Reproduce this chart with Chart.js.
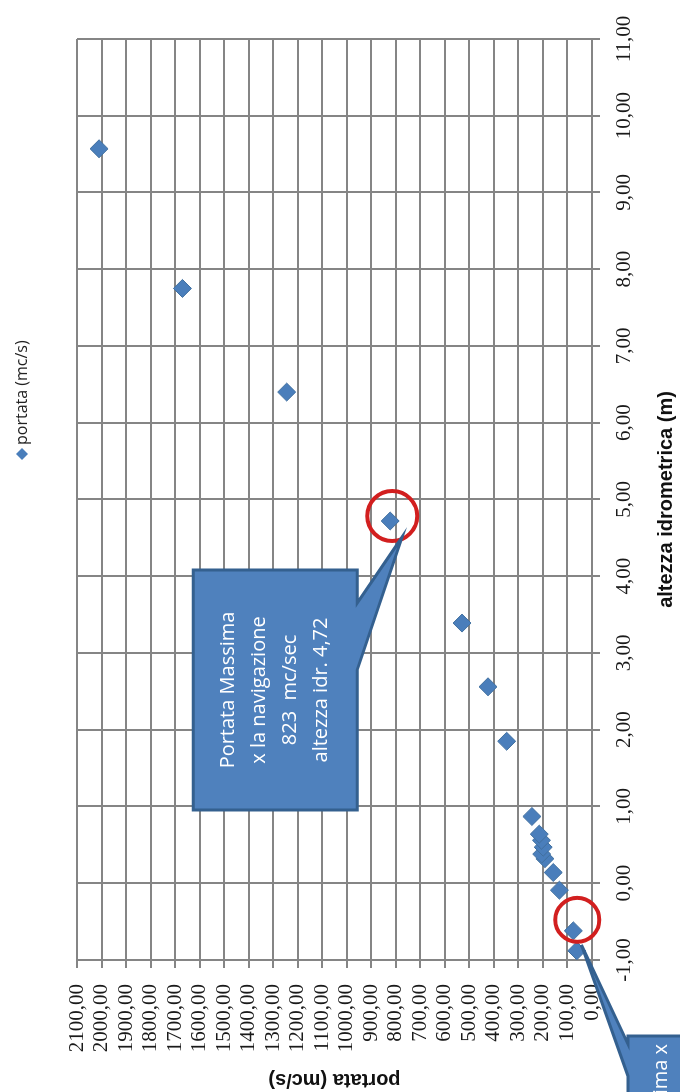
<!DOCTYPE html>
<html>
<head>
<meta charset="utf-8">
<title>portata / altezza idrometrica</title>
<script src="https://cdn.jsdelivr.net/npm/chart.js@4.4.1/dist/chart.umd.min.js"></script>
<style>
  html, body { margin: 0; padding: 0; background: #fff; overflow: hidden; }
  #wrap { position: relative; width: 680px; height: 1092px; overflow: hidden; background: #fff; }
  /* chart is laid out landscape, then turned a quarter turn to stand upright */
  #portata-chart {
    position: absolute; left: 0; top: 0;
    transform-origin: 0 0;
    transform: translateY(1092px) rotate(-90deg);
  }
</style>
</head>
<body>
<div id="wrap"><canvas id="portata-chart" width="1092" height="680"></canvas></div>
<script>
// misure: altezza idrometrica (m) e portata (mc/s)
const altezza = [-0.88, -0.62, -0.09, 0.14, 0.32, 0.38, 0.47, 0.56, 0.64, 0.87, 1.85, 2.56, 3.39, 4.72, 6.40, 7.75, 9.57];
const portata = [62, 76, 133, 158, 192, 205, 199, 206, 215, 245, 348, 424, 530, 823, 1245, 1670, 2010];

const seriesLabel = 'portata (mc/s)';
const xTitle = 'altezza idrometrica (m)';
const yTitle = 'portata (mc/s)';
const xMin = -1, xMax = 11, xStep = 1;
const yMin = 0, yMax = 2100, yStep = 100;

const calloutMax = ['Portata Massima', 'x la navigazione', '823  mc/sec', 'altezza idr. 4,72'];
const calloutMin = ['Portata minima x'];
const idxMax = 13;   // punto da 823 mc/s
const idxMin = 1;    // punto piu basso cerchiato

const gridColor = '#858585';
const pointColor = '#4a7ebb';
const boxFill = '#4f81bd';
const boxEdge = '#34608f';
const ringColor = '#d21f1f';

const fmt = (v) => Number(v).toFixed(2).replace('.', ',');

/**
 * Draws a wedge callout: rectangle with a pointer leaving one edge
 */
const drawCallout = (ctx, box, edge, base, tip, lines, lineGap) => {
    ctx.save();
    ctx.beginPath();
    if (edge === 'bottom') {
        ctx.moveTo(box.l, box.t);
        ctx.lineTo(box.r, box.t);
        ctx.lineTo(box.r, box.b);
        ctx.lineTo(base[1], box.b);
        ctx.lineTo(tip.x, tip.y);
        ctx.lineTo(base[0], box.b);
        ctx.lineTo(box.l, box.b);
    } else {
        ctx.moveTo(box.l, box.t);
        ctx.lineTo(base[0], box.t);
        ctx.lineTo(tip.x, tip.y);
        ctx.lineTo(base[1], box.t);
        ctx.lineTo(box.r, box.t);
        ctx.lineTo(box.r, box.b);
        ctx.lineTo(box.l, box.b);
    }
    ctx.closePath();
    ctx.fillStyle = boxFill;
    ctx.fill();
    ctx.lineWidth = 3;
    ctx.lineJoin = 'miter';
    ctx.strokeStyle = boxEdge;
    ctx.stroke();

    ctx.fillStyle = '#ffffff';
    ctx.font = '20px "Open Sans"';
    ctx.textAlign = box.align || 'center';
    ctx.textBaseline = 'middle';
    const cx = box.textX !== undefined ? box.textX : (box.l + box.r) / 2;
    const startY = box.textY !== undefined ? box.textY : (box.t + box.b) / 2 - (lines.length - 1) * lineGap / 2;
    lines.forEach((line, i) => ctx.fillText(line, cx, startY + i * lineGap));
    ctx.restore();
};

const ring = (ctx, x, y, r) => {
    ctx.save();
    ctx.beginPath();
    ctx.arc(x, y, r, 0, Math.PI * 2);
    ctx.lineWidth = 4;
    ctx.strokeStyle = ringColor;
    ctx.stroke();
    ctx.restore();
};

const annotations = {
    id: 'annotations',
    afterDatasetsDraw(chart) {
        const { ctx, scales: { x, y } } = chart;

        // portata massima
        const px = x.getPixelForValue(altezza[idxMax]);
        const py = y.getPixelForValue(portata[idxMax]);
        ring(ctx, px + 5, py + 2, 25);
        drawCallout(ctx,
            { l: px - 289, r: px - 49, t: py - 197, b: py - 33 },
            'bottom', [px - 149, px - 82], { x: px - 16, y: py + 12 },
            calloutMax, 31);

        // portata minima
        const qx = x.getPixelForValue(altezza[idxMin]);
        const qy = y.getPixelForValue(portata[idxMin]);
        ring(ctx, qx + 11, qy + 4, 22);
        drawCallout(ctx,
            { l: -160, r: 56, t: 628, b: 790, textX: 48, textY: 661, align: 'right' },
            'top', [16, 48], { x: qx - 14, y: qy + 8 },
            calloutMin, 31);
    }
};

const legendRow = {
    id: 'legendRow',
    afterDraw(chart) {
        const { ctx } = chart;
        const ds = chart.data.datasets[0];
        ctx.save();
        ctx.font = '16px "Open Sans"';
        ctx.textBaseline = 'middle';
        ctx.textAlign = 'left';
        const rowY = 22;
        const startX = 632;
        ctx.fillStyle = pointColor;
        ctx.beginPath();
        ctx.moveTo(startX, rowY);
        ctx.lineTo(startX + 6, rowY - 6);
        ctx.lineTo(startX + 12, rowY);
        ctx.lineTo(startX + 6, rowY + 6);
        ctx.closePath();
        ctx.fill();
        ctx.fillStyle = '#222';
        ctx.fillText(ds.label, startX + 15, rowY);
        ctx.restore();
    }
};

const tickFont = { family: 'Liberation Serif', size: 21 };
const titleFont = { family: 'Liberation Sans', size: 20, weight: 'bold' };

const element = document.getElementById('portata-chart');

new Chart(element, {
    type: 'scatter',
    data: {
        datasets: [{
            label: seriesLabel,
            data: altezza.map((a, i) => ({ x: a, y: portata[i] })),
            pointStyle: 'rectRot',
            pointRadius: 9,
            pointHoverRadius: 9,
            backgroundColor: pointColor,
            borderColor: '#41709f',
            borderWidth: 1
        }]
    },
    options: {
        responsive: false,
        animation: false,
        devicePixelRatio: 1,
        layout: { padding: { top: 77, right: 39, bottom: 0, left: 0 } },
        plugins: {
            legend: { display: false },
            tooltip: { enabled: false }
        },
        scales: {
            x: {
                type: 'linear',
                min: xMin, max: xMax,
                ticks: {
                    stepSize: xStep, callback: fmt, color: '#1a1a1a',
                    font: tickFont, padding: 12, maxRotation: 0, autoSkip: false
                },
                grid: { color: gridColor, lineWidth: 2, tickLength: 8 },
                border: { color: gridColor, width: 2 },
                title: { display: true, text: xTitle, color: '#111', font: titleFont, padding: { top: 0, bottom: 2 } },
                afterFit: (scale) => { scale.height = 88; }
            },
            y: {
                type: 'linear',
                min: yMin, max: yMax,
                ticks: {
                    stepSize: yStep, callback: fmt, color: '#1a1a1a',
                    font: tickFont, padding: 16, autoSkip: false
                },
                grid: { color: gridColor, lineWidth: 2, tickLength: 8 },
                border: { color: gridColor, width: 2 },
                title: { display: true, text: yTitle, color: '#111', font: titleFont, padding: { top: 0, bottom: 0 } },
                afterFit: (scale) => { scale.width = 132; }
            }
        }
    },
    plugins: [annotations, legendRow]
});
</script>
</body>
</html>
